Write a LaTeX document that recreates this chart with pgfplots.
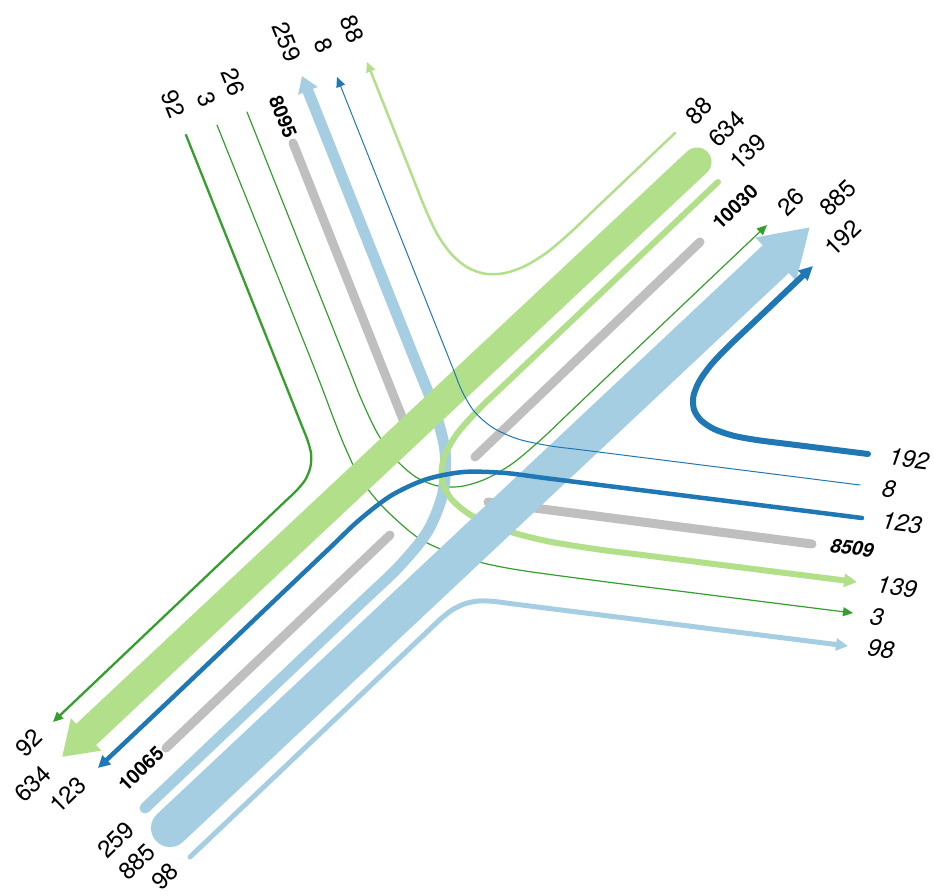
\documentclass[border=0pt]{standalone}
\usepackage{pgfplots}
\pgfplotsset{compat=1.18}
\usetikzlibrary{arrows.meta}
\usepackage{fontspec}
\setmainfont{TeX Gyre Heros}
\definecolor{lg}{HTML}{B2DF8A}
\definecolor{dg}{HTML}{33A02C}
\definecolor{lb}{HTML}{A6CEE3}
\definecolor{db}{HTML}{1F78B4}
\definecolor{gr}{HTML}{BFBFBF}
\tikzset{
  lab/.style={font=\fontsize{24}{28}\selectfont, inner sep=0pt},
  labi/.style={font=\fontsize{24}{28}\selectfont\itshape, inner sep=0pt, rotate=-7},
  tot/.style={font=\fontsize{19.5}{22}\selectfont\bfseries, inner sep=0pt},
  toti/.style={font=\fontsize{19.5}{22}\selectfont\bfseries\itshape, inner sep=0pt, rotate=-7},
}
\begin{document}
\begin{tikzpicture}
\begin{axis}[width=934pt,height=896pt,scale only axis,
  xmin=0,xmax=934,ymin=0,ymax=896,y dir=reverse,
  hide axis,clip=false,no markers,
  every axis plot/.append style={line cap=round,line join=round}]
% totals (gray)
\addplot[gr,line width=9pt] coordinates {(293,143) (412,442)};
\addplot[gr,line width=9pt] coordinates {(700,242) (475,457)};
\addplot[gr,line width=9pt] coordinates {(390,535) (166,748)};
\addplot[gr,line width=9pt] coordinates {(488,502) (812,544)};
% 92 N -> SW
\addplot[dg,line width=2.3pt,smooth,-{Triangle[length=10pt,width=9pt]}] coordinates {(186,135) (268.5,342.0) (290.7,397.7) (301.75,425.6) (307.3,439.5) (311.1,453.85) (310.35,467.3) (305.3,479.75) (295.9,491.2) (285.0,501.5) (263.3,522.2) (219.8,563.5) (53,722)};
% 3 N -> E
\addplot[dg,line width=1.2pt,smooth,-{Triangle[length=10pt,width=9pt]}] coordinates {(217,125) (310,357) (333,417) (345,447) (360,478) (383,507) (417,537) (450,553) (483,563) (522,570.5) (600,581.1) (700,593.7) (853,613)};
% 26 N -> NE
\addplot[dg,line width=1.2pt,smooth,-{Triangle[length=10pt,width=9pt]}] coordinates {(247,112) (316.85,287.7) (346.45,362.0) (361.25,399.2) (377.5,433.4) (395.5,459.15) (415.25,476.6) (436.95,485.75) (460.45,486.5) (485.8,478.95) (512.9,463.2) (541.9,438.8) (570.9,411.2) (628.9,356.1) (767,225)};
% 259 SW -> N
\addplot[lb,line width=11pt,smooth,-{Triangle[length=16pt,width=20pt]}] coordinates {(145,808) (289.1,671.2) (361.6,602.3) (397.8,567.8) (427.3,531.9) (442.9,492.9) (445.0,451.0) (433.3,406.0) (414.8,359.5) (377.8,266.6) (302,76)};
% 98 SW -> E
\addplot[lb,line width=5pt,smooth,-{Triangle[length=12pt,width=12pt]}] coordinates {(190,857) (277.6,773.8) (365.2,690.6) (408.7,649.3) (430.5,628.6) (441.35,618.3) (452.8,609.5) (465.1,603.7) (478.6,601.0) (492.9,601.35) (507.8,603.2) (537.5,607.0) (597.1,614.5) (848,646)};
% 139 NE -> E
\addplot[lg,line width=6pt,smooth,-{Triangle[length=13pt,width=13pt]}] coordinates {(718,182) (567.7,324.7) (509.7,379.8) (480.7,407.4) (456.7,434.2) (443.8,458.4) (442.0,480.0) (451.4,499.1) (471.7,515.6) (503.2,529.6) (545.9,540.9) (599.6,549.6) (649.2,555.85) (748.4,568.35) (857,582)};
% 88 NE -> N
\addplot[lg,line width=2.5pt,smooth,-{Triangle[length=10pt,width=9pt]}] coordinates {(675,133) (598.9,205.4) (569.9,233.0) (546.2,253.0) (524.2,266.4) (503.8,273.3) (484.9,273.7) (467.7,267.6) (452.1,254.9) (438.1,235.6) (425.75,209.9) (409.1,168.1) (367,62)};
% main through flows
\addplot[lb,line width=38pt,-{Triangle[length=47pt,width=56pt]}] coordinates {(170,828) (810,227)};
\addplot[lg,line width=29pt,-{Triangle[length=33pt,width=42pt]}] coordinates {(697,162) (62,757)};
% 8 E -> N
\addplot[db,line width=1pt,smooth,-{Triangle[length=10pt,width=9pt]}] coordinates {(860,485) (738.2,469.6) (639.0,457.1) (579.5,449.6) (549.7,445.85) (518.2,439.1) (493.0,427.75) (474.3,411.5) (461.8,390.65) (452.55,367.4) (434.05,321.0) (397.05,228.1) (337,77)};
% 123 E -> SW
\addplot[db,line width=4.5pt,smooth,-{Triangle[length=12pt,width=12pt]}] coordinates {(862,518) (732.3,501.65) (613.2,486.65) (543.8,477.9) (504.1,472.9) (463.4,472.0) (425.45,479.55) (390.4,496.0) (358.2,520.9) (329.2,548.5) (271.2,603.6) (177.2,693.15) (98,768)};
% 192 E -> NE
\addplot[db,line width=6pt,smooth,-{Triangle[length=14pt,width=13pt]}] coordinates {(868,454) (798.5,445.3) (758.8,440.3) (733.4,435.7) (714.1,429.1) (701.0,420.35) (694.05,409.75) (693.3,396.9) (698.8,382.2) (710.4,365.5) (728.1,346.7) (757.1,319.1) (813,266)};
% labels north arm
\node[lab,rotate=-68] at (axis cs:173,104) {92};
\node[lab,rotate=-68] at (axis cs:207,100) {3};
\node[lab,rotate=-68] at (axis cs:233,82) {26};
\node[tot,rotate=-68] at (axis cs:283,117) {8095};
\node[lab,rotate=-68] at (axis cs:287,42) {259};
\node[lab,rotate=-68] at (axis cs:324,46) {8};
\node[lab,rotate=-68] at (axis cs:352,29) {88};
% labels north-east arm
\node[lab,rotate=44] at (axis cs:699,111) {88};
\node[lab,rotate=44] at (axis cs:727,129) {634};
\node[lab,rotate=44] at (axis cs:748,152) {139};
\node[tot,rotate=44] at (axis cs:735,207) {10030};
\node[lab,rotate=44] at (axis cs:791,202) {26};
\node[lab,rotate=44] at (axis cs:838,198) {885};
\node[lab,rotate=44] at (axis cs:843,238) {192};
% labels east arm
\node[labi] at (axis cs:909,459) {192};
\node[labi] at (axis cs:889,489) {8};
\node[labi] at (axis cs:902,523) {123};
\node[toti] at (axis cs:852,548) {8509};
\node[labi] at (axis cs:897,587) {139};
\node[labi] at (axis cs:877,617) {3};
\node[labi] at (axis cs:881,649) {98};
% labels south-west arm
\node[lab,rotate=44] at (axis cs:29,743) {92};
\node[lab,rotate=44] at (axis cs:33,784) {634};
\node[lab,rotate=44] at (axis cs:68,795) {123};
\node[tot,rotate=44] at (axis cs:141,769) {10065};
\node[lab,rotate=44] at (axis cs:116,840) {259};
\node[lab,rotate=44] at (axis cs:137,862) {885};
\node[lab,rotate=44] at (axis cs:165,876) {98};
\end{axis}
\pgfresetboundingbox
\path (0,0) rectangle (934pt,896pt);
\end{tikzpicture}
\end{document}
